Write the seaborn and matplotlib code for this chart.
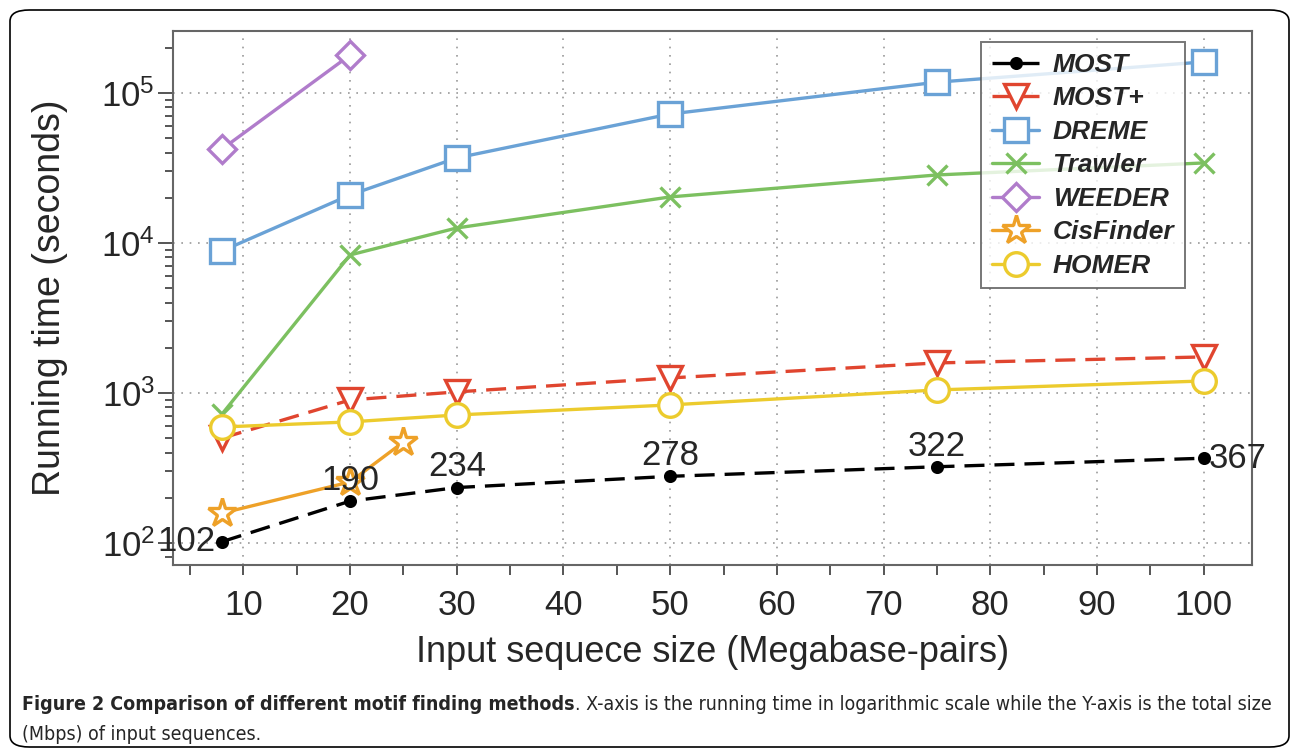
import numpy as np
import pandas as pd
import matplotlib
matplotlib.use("Agg")
import matplotlib.pyplot as plt
from matplotlib.patches import FancyBboxPatch
from matplotlib.ticker import LogLocator, FixedLocator, NullFormatter
from matplotlib.lines import Line2D
import seaborn as sns

# data
sizes = [8, 20, 30, 50, 75, 100]
most = [102, 190, 234, 278, 322, 367]
most_plus = [500, 898, 1016, 1259, 1585, 1738]
dreme = [8850, 20900, 36900, 72400, 118000, 161000]
trawler = [724, 8318, 12589, 20270, 28400, 34150]
weeder_x = [8, 20]
weeder = [42300, 179000]
cisfinder_x = [8, 20, 25]
cisfinder = [158, 255, 471]
homer = [593, 641, 713, 832, 1047, 1202]

x_ticks = [10, 20, 30, 40, 50, 60, 70, 80, 90, 100]

sns.set_theme(style="white")
plt.rcParams['font.family'] = ['Liberation Sans', 'DejaVu Sans']
plt.rcParams['mathtext.fontset'] = 'custom'
plt.rcParams['mathtext.rm'] = 'Liberation Sans'
plt.rcParams['mathtext.it'] = 'Liberation Sans:italic'

fig = plt.figure(figsize=(12.93, 7.51), dpi=100)
ax = fig.add_axes([0.1338, 0.2477, 0.968 - 0.1338, 0.9587 - 0.2477])

series = [
    ("MOST", sizes, most, "black", "o", (0, (6, 3)), 7, "black"),
    ("MOST+", sizes, most_plus, "#e0452f", "v", (0, (6, 3)), 17, "white"),
    ("DREME", sizes, dreme, "#6aa2d6", "s", "-", 17, "white"),
    ("Trawler", sizes, trawler, "#7cc060", "x", "-", 15, "none"),
    ("WEEDER", weeder_x, weeder, "#b07ccb", "D", "-", 14, "white"),
    ("CisFinder", cisfinder_x, cisfinder, "#eea128", "*", "-", 21, "white"),
    ("HOMER", sizes, homer, "#eccb2d", "o", "-", 17, "white"),
]

handles = []
for name, xs, ys, col, mk, ls, ms, mfc in series:
    df = pd.DataFrame({"size": xs, "time": ys})
    sns.lineplot(data=df, x="size", y="time", ax=ax, color=col, linestyle=ls,
                 linewidth=2.4, marker=mk, markersize=ms, markerfacecolor=mfc,
                 markeredgecolor=col, markeredgewidth=2.4, clip_on=False)
    handles.append(Line2D([], [], color=col, linestyle=ls, linewidth=2.4,
                          marker=mk, markersize=ms, markerfacecolor=mfc,
                          markeredgecolor=col, markeredgewidth=2.4))

ax.set_yscale("log")
ax.set_xlim(3.4, 104.5)
ax.set_ylim(10 ** 1.853, 10 ** 5.413)

ax.xaxis.set_major_locator(FixedLocator(x_ticks))
ax.xaxis.set_minor_locator(FixedLocator([t - 5 for t in x_ticks]))
ax.set_xticklabels([str(t) for t in x_ticks])
ax.yaxis.set_major_locator(LogLocator(base=10, numticks=10))
ax.yaxis.set_minor_locator(LogLocator(base=10, subs=np.arange(2, 10), numticks=10))
ax.yaxis.set_minor_formatter(NullFormatter())

ax.tick_params(axis="both", which="major", direction="out", labelsize=25,
               color="#555555", width=1.4, length=11, pad=2)
ax.tick_params(axis="both", which="minor", direction="out", color="#555555",
               width=1.4, length=6)
ax.tick_params(axis="x", which="both", bottom=True, length=7, pad=10)
ax.tick_params(axis="y", which="both", left=True)

for sp in ax.spines.values():
    sp.set_color("#666666")
    sp.set_linewidth(1.5)

ax.grid(True, which="major", linestyle=(0, (1, 4)), color="#999999", linewidth=1.2)

ax.set_xlabel("Input sequece size (Megabase-pairs)", fontsize=26, labelpad=10)
ax.set_ylabel("Running time (seconds)", fontsize=27, labelpad=24)

# value labels for MOST
for i, (xv, yv) in enumerate(zip(sizes, most)):
    if i == 0:
        ax.annotate(str(yv), (xv, yv), xytext=(-5, 0), textcoords="offset points",
                    ha="right", va="center", fontsize=25)
    elif i == len(sizes) - 1:
        ax.annotate(str(yv), (xv, yv), xytext=(4, 0), textcoords="offset points",
                    ha="left", va="center", fontsize=25)
    else:
        ax.annotate(str(yv), (xv, yv), xytext=(0, 3), textcoords="offset points",
                    ha="center", va="bottom", fontsize=25)

leg = ax.legend(handles, [s[0] for s in series], loc="upper right",
                bbox_to_anchor=(0.938, 0.979), frameon=True, fancybox=False,
                prop={"weight": "bold", "style": "italic", "size": 19},
                handlelength=1.8, handletextpad=0.5, labelspacing=0.36,
                borderpad=0.4, borderaxespad=0)
leg.get_frame().set_edgecolor("#555555")
leg.get_frame().set_linewidth(1.4)

# outer frame around figure and caption
box = FancyBboxPatch((10 / 1293, 4 / 751), 1279 / 1293, 737 / 751,
                     boxstyle="round,pad=0,rounding_size=0.015",
                     transform=fig.transFigure, fill=False, edgecolor="black",
                     linewidth=1.2)
fig.patches.append(box)

cap_font = ['Liberation Sans Narrow', 'DejaVu Sans']
t1 = fig.text(22 / 1293, 1 - 705 / 751, "Figure 2 Comparison of different motif finding methods",
              fontsize=14, fontweight="bold", family=cap_font, stretch="condensed",
              va="center", ha="left")
fig.canvas.draw()
bb = t1.get_window_extent()
fig.text(bb.x1 / fig.bbox.width, 1 - 705 / 751,
         ". X-axis is the running time in logarithmic scale while the Y-axis is the total size",
         fontsize=14, family=cap_font, stretch="condensed", va="center", ha="left")
fig.text(22 / 1293, 1 - 734 / 751, "(Mbps) of input sequences.",
         fontsize=14, family=cap_font, stretch="condensed", va="center", ha="left")

fig.savefig("out.png", dpi=100)
